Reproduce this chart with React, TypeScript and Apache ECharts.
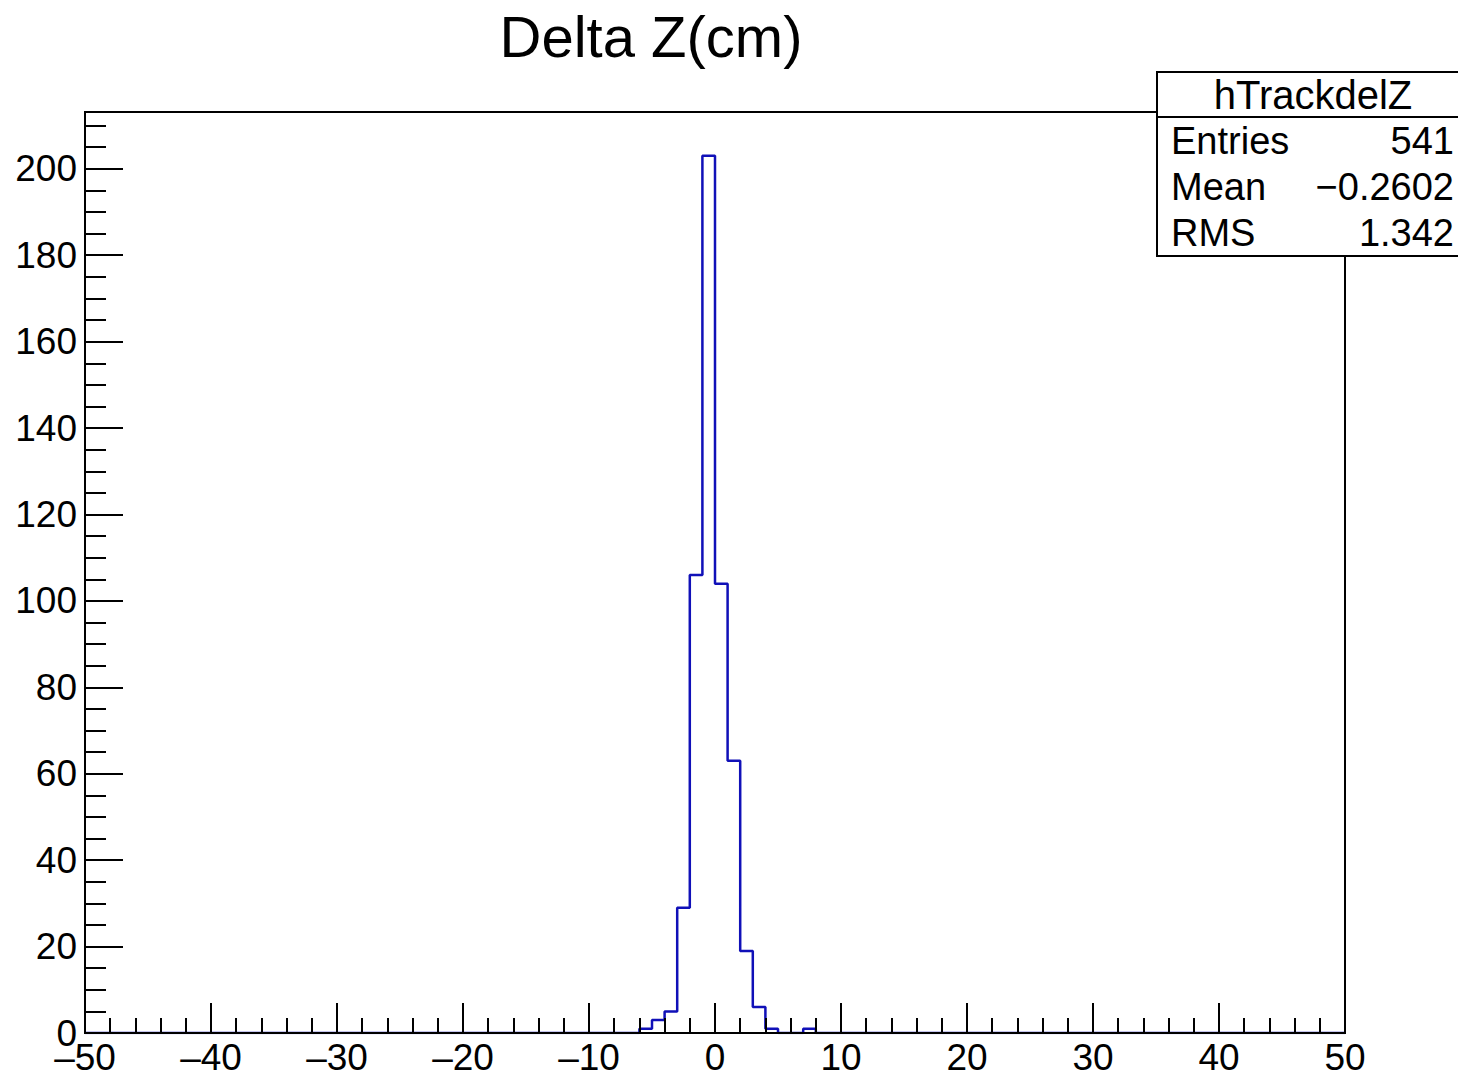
import React, { useEffect, useRef } from "react";
import * as echarts from "echarts";

// Histogram binning: 100 bins of width 1 from -50 to 50
const xMin = -50;
const xMax = 50;
const binWidth = 1;

// Lower edges of the non-empty bins and their contents
const filledBinLow = [-6, -5, -4, -3, -2, -1, 0, 1, 2, 3, 4, 7];
const filledBinCount = [1, 3, 5, 29, 106, 203, 104, 63, 19, 6, 1, 1];

// Statistics box
const histName = "hTrackdelZ";
const statLabels = ["Entries", "Mean", "RMS"];
const statValues = ["541", "\u22120.2602", "1.342"];

const titleText = "Delta Z(cm)";
const xTicks = [-50, -40, -30, -20, -10, 0, 10, 20, 30, 40, 50];
const yTicks = [0, 20, 40, 60, 80, 100, 120, 140, 160, 180, 200];

const FONT = "'Liberation Sans', Arial, Helvetica, sans-serif";
const LINE_BLUE = "#1010b8";

function buildSteps(): number[][] {
  const nBins = Math.round((xMax - xMin) / binWidth);
  const counts: number[] = new Array(nBins).fill(0);
  filledBinLow.forEach((lo, i) => {
    const idx = Math.round((lo - xMin) / binWidth);
    counts[idx] = filledBinCount[i];
  });
  const pts: number[][] = counts.map((c, i) => [xMin + i * binWidth, c]);
  pts.push([xMax, counts[nBins - 1]]);
  return pts;
}

export default function App() {
  const ref = useRef<HTMLDivElement>(null);

  useEffect(() => {
    if (!ref.current) return;
    const chart = echarts.init(ref.current, undefined, { renderer: "svg" });
    const yMaxVal = Math.max(...filledBinCount) * 1.05;
    const minus = (v: number) => (v < 0 ? "\u2013" + Math.abs(v) : String(v));

    const statTop = 72;
    const statLeft = 1157;
    const rowH = 46;

    chart.setOption({
      animation: false,
      backgroundColor: "#ffffff",
      grid: {
        left: 85,
        right: 113,
        top: 112,
        bottom: 44,
        show: true,
        borderColor: "#000",
        borderWidth: 2,
        backgroundColor: "transparent",
      },
      xAxis: {
        type: "value",
        min: xMin,
        max: xMax,
        interval: 10,
        z: 5,
        axisLine: { show: true, onZero: false, lineStyle: { color: "#000", width: 2 } },
        axisTick: { show: true, inside: true, length: 30, lineStyle: { color: "#000", width: 2 } },
        minorTick: { show: true, splitNumber: 5, length: 15, lineStyle: { color: "#000", width: 2 } },
        splitLine: { show: false },
        axisLabel: {
          show: true,
          margin: 9,
          fontSize: 37,
          lineHeight: 30,
          fontFamily: FONT,
          color: "#000",
          formatter: (v: number) => (xTicks.includes(v) ? minus(v) : ""),
        },
      },
      yAxis: {
        type: "value",
        min: 0,
        max: yMaxVal,
        interval: 20,
        z: 5,
        axisLine: { show: true, onZero: false, lineStyle: { color: "#000", width: 2 } },
        axisTick: { show: true, inside: true, length: 38, lineStyle: { color: "#000", width: 2 } },
        minorTick: { show: true, splitNumber: 4, length: 21, lineStyle: { color: "#000", width: 2 } },
        splitLine: { show: false },
        axisLabel: {
          show: true,
          margin: 8,
          fontSize: 37,
          lineHeight: 30,
          fontFamily: FONT,
          color: "#000",
          formatter: (v: number) => (yTicks.includes(v) ? String(v) : ""),
        },
      },
      series: [
        {
          type: "line",
          step: "end",
          data: buildSteps(),
          symbol: "none",
          z: 3,
          lineStyle: { color: LINE_BLUE, width: 2.5 },
        },
      ],
      graphic: [
        {
          type: "text",
          x: 651,
          y: 36,
          style: {
            text: titleText,
            fontSize: 58,
            fontFamily: FONT,
            fill: "#000",
            textAlign: "center",
            textVerticalAlign: "middle",
          },
        },
        {
          type: "rect",
          z: 10,
          shape: { x: statLeft, y: statTop, width: 320, height: 184 },
          style: { fill: "#fff", stroke: "#000", lineWidth: 2 },
        },
        {
          type: "line",
          z: 11,
          shape: { x1: statLeft, y1: 117, x2: 1470, y2: 117 },
          style: { stroke: "#000", lineWidth: 2 },
        },
        {
          type: "text",
          z: 11,
          x: 1313,
          y: 95,
          style: {
            text: histName,
            fontSize: 40,
            fontFamily: FONT,
            fill: "#000",
            textAlign: "center",
            textVerticalAlign: "middle",
          },
        },
        ...statLabels.map((lab, i) => ({
          type: "text",
          z: 11,
          x: 1171,
          y: 141 + i * rowH,
          style: {
            text: lab,
            fontSize: 38,
            fontFamily: FONT,
            fill: "#000",
            textAlign: "left",
            textVerticalAlign: "middle",
          },
        })),
        ...statValues.map((val, i) => ({
          type: "text",
          z: 11,
          x: 1454,
          y: 141 + i * rowH,
          style: {
            text: val,
            fontSize: 38,
            fontFamily: FONT,
            fill: "#000",
            textAlign: "right",
            textVerticalAlign: "middle",
          },
        })),
      ],
    });
    return () => chart.dispose();
  }, []);

  return (
    <div
      ref={ref}
      style={{ position: "fixed", left: 0, top: 0, width: 1458, height: 1077, background: "#fff" }}
    />
  );
}
